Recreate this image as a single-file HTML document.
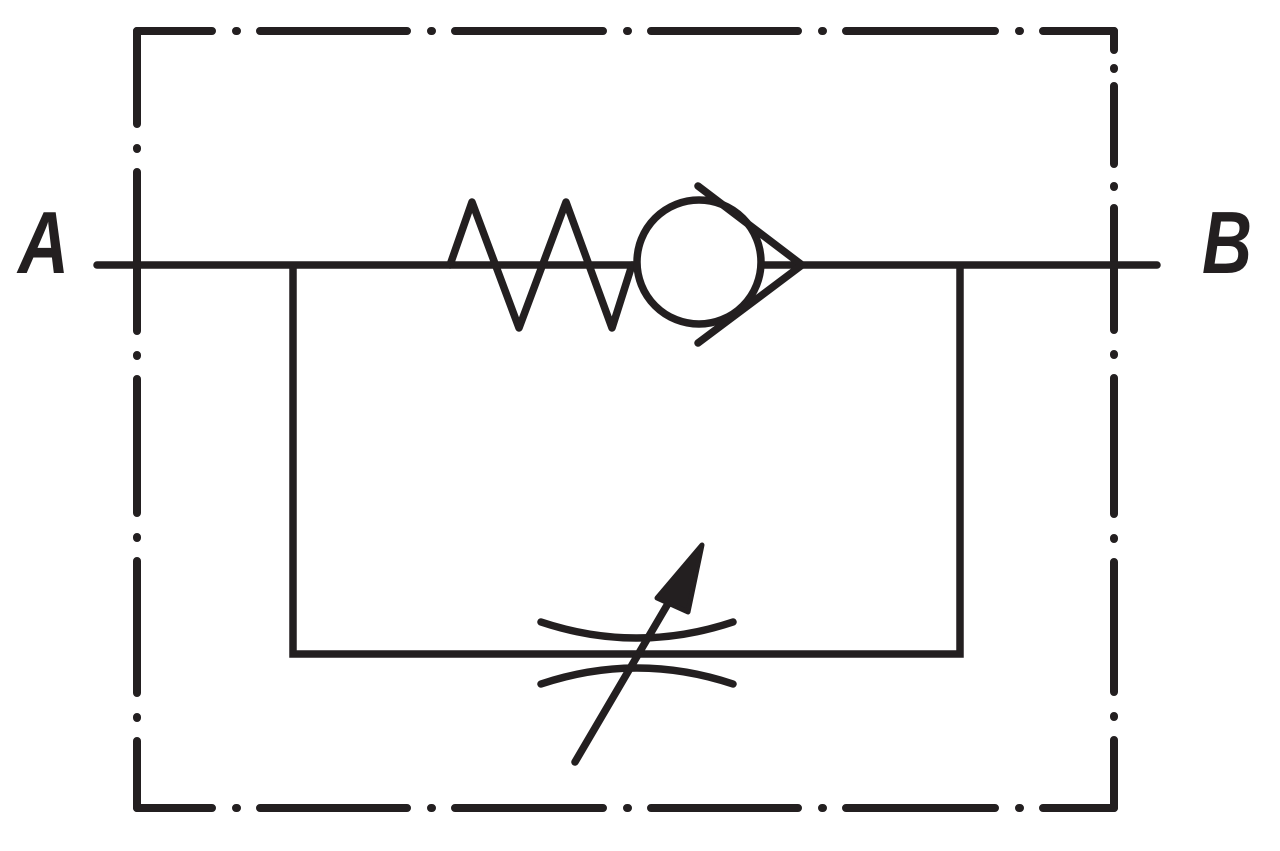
<!DOCTYPE html>
<html><head><meta charset="utf-8"><style>html,body{margin:0;padding:0;background:#fff}svg{display:block}</style></head>
<body>
<svg width="1280" height="851" viewBox="0 0 1280 851" xmlns="http://www.w3.org/2000/svg">
<g stroke="#231f20" stroke-width="8" stroke-linecap="round" fill="none">
<path d="M137 31H212M236 31h1M260 31H407M431 31h1M455 31H603M627 31h1M651 31H798M822 31h1M846 31H995M1019 31h1M1043 31H1114"/>
<path d="M137 808H212M236 808h1M260 808H407M431 808h1M455 808H603M627 808h1M651 808H798M822 808h1M846 808H995M1019 808h1M1043 808H1114"/>
<path d="M137 31V124M137 148v1M137 172V331M137 355v1M137 379V513M137 537v1M137 561V693M137 717v1M137 741V808"/>
<path d="M1114 31V50M1114 68v1M1114 86V164M1114 186v1M1114 208V330M1114 354v1M1114 378V514M1114 538v1M1114 562V692M1114 716v1M1114 740V808"/>
</g>
<g stroke="#231f20" stroke-width="7.5" fill="none" stroke-linecap="round" stroke-linejoin="miter">
<path d="M97 265H1157"/>
<path d="M293 265V654H960V265" stroke-linecap="butt"/>
<path d="M450 265L472 202L519 328L566 202L612 328L632 265" stroke-linejoin="round"/>
<circle cx="699" cy="262" r="62" fill="#fff"/>
<path d="M698 186L802 265L698 343"/>
<path d="M541 622Q637 654 733 622"/>
<path d="M541 684Q637 652 733 684"/>
<path d="M575 762L676 590"/>
</g>
<path d="M702 545L657 598L688 612Z" fill="#231f20" stroke="#231f20" stroke-width="5" stroke-linejoin="round"/>
<g font-family="'Liberation Sans',sans-serif" font-weight="bold" font-style="italic" font-size="88" fill="#231f20">
<text x="18" y="273" textLength="51" lengthAdjust="spacingAndGlyphs">A</text>
<text x="1202" y="273" textLength="50" lengthAdjust="spacingAndGlyphs">B</text>
</g>
</svg>
</body></html>
